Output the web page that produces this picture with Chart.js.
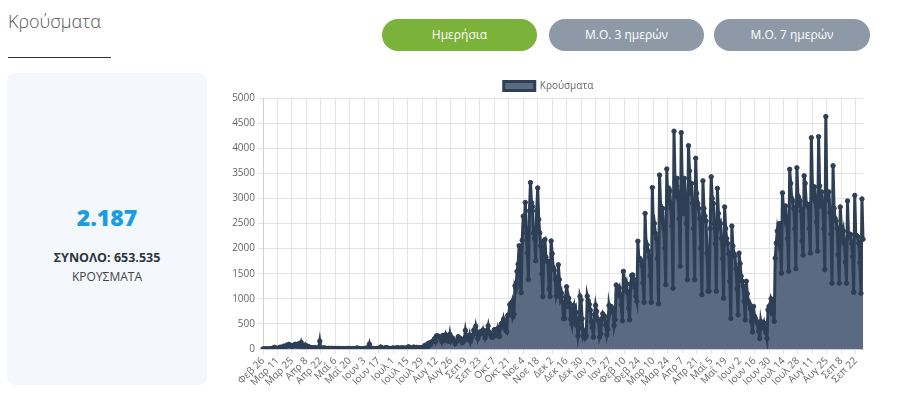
<!DOCTYPE html>
<html><head><meta charset="utf-8">
<script src="https://cdn.jsdelivr.net/npm/chart.js@4.4.0/dist/chart.umd.min.js"></script>
<style>
html,body{margin:0;padding:0;background:#fff;width:900px;height:396px;overflow:hidden;font-family:"Open Sans",sans-serif;}
.title{position:absolute;left:8px;top:9px;font-size:18px;font-weight:300;color:#555;}
.rule{position:absolute;left:8px;top:57px;width:103px;height:1px;background:#333;}
.btn{position:absolute;top:19px;height:32px;border-radius:16px;color:#fff;font-size:12px;line-height:32px;text-align:center;}
.card{position:absolute;left:7px;top:73px;width:200px;height:312px;background:#f4f7fc;border-radius:8px;text-align:center;}
.big{position:absolute;left:0;width:200px;top:128px;font-size:23px;font-weight:800;color:#1b9ee0;}
.tot{position:absolute;left:0;width:200px;top:176px;font-size:12.5px;font-weight:700;color:#2d3540;}
.lbl{position:absolute;left:0;width:200px;top:195px;font-size:12px;color:#444;}
#wrap{position:absolute;left:220px;top:68px;width:665px;height:328px;}
</style></head>
<body>
<div class="title">Κρούσματα</div>
<div class="rule"></div>
<div class="btn" style="left:382px;width:155px;background:#7bb23a;">Ημερήσια</div>
<div class="btn" style="left:549px;width:155px;background:#8d99a7;">Μ.Ο. 3 ημερών</div>
<div class="btn" style="left:714px;width:156px;background:#8d99a7;">Μ.Ο. 7 ημερών</div>
<div class="card">
  <div class="big">2.187</div>
  <div class="tot">ΣΥΝΟΛΟ: 653.535</div>
  <div class="lbl">ΚΡΟΥΣΜΑΤΑ</div>
</div>
<div id="wrap"><canvas id="c" width="665" height="328"></canvas></div>
<script>
const seriesName = 'Κρούσματα';
const monthNames = ['Ιαν','Φεβ','Μαρ','Απρ','Μαΐ','Ιουν','Ιουλ','Αυγ','Σεπ','Οκτ','Νοε','Δεκ'];
const tickLabels = ['Φεβ 26','Μαρ 11','Μαρ 25','Απρ 8','Απρ 22','Μαΐ 6','Μαΐ 20','Ιουν 3','Ιουν 17','Ιουλ 1','Ιουλ 15','Ιουλ 29','Αυγ 12','Αυγ 26','Σεπ 9','Σεπ 23','Οκτ 7','Οκτ 21','Νοε 4','Νοε 18','Δεκ 2','Δεκ 16','Δεκ 30','Ιαν 13','Ιαν 27','Φεβ 10','Φεβ 24','Μαρ 10','Μαρ 24','Απρ 7','Απρ 21','Μαΐ 5','Μαΐ 19','Ιουν 2','Ιουν 16','Ιουν 30','Ιουλ 14','Ιουλ 28','Αυγ 11','Αυγ 25','Σεπ 8','Σεπ 22'];
const yTicks = [0,500,1000,1500,2000,2500,3000,3500,4000,4500,5000];
// daily cases, one row per week (Wed..Tue), from 26 Feb 2020 to 29 Sep 2021
const cases = [
1,2,0,0,3,0,0,
2,2,14,1,34,11,16,
10,18,27,38,10,21,56,
31,46,77,65,94,71,70,
48,71,71,95,64,61,102,
99,53,129,62,62,20,77,
29,56,49,17,30,25,15,
25,25,22,12,19,19,156,
15,11,16,24,9,17,8,
9,15,10,3,12,10,7,
11,6,10,9,6,4,6,
10,5,4,6,6,10,8,
12,4,3,4,10,1,9,
21,13,5,2,1,3,9,
5,1,20,15,16,97,5,
4,15,9,2,5,10,5,
12,8,40,17,10,12,23,
27,21,19,9,11,9,15,
20,14,15,9,28,11,15,
20,12,25,19,16,8,23,
30,45,21,15,18,19,39,
28,25,33,22,21,22,30,
25,32,48,75,41,30,110,
121,82,124,151,153,203,150,
262,262,254,230,217,151,269,
269,193,284,226,163,151,293,
168,227,205,164,106,146,156,
244,224,202,198,124,142,209,
372,264,207,184,277,153,224,
269,374,338,453,342,208,274,
338,343,316,381,298,218,286,
372,460,318,324,244,235,244,
385,383,332,402,256,248,451,
508,461,597,512,377,345,667,
685,882,865,935,637,694,1259,
1211,1547,1690,2056,1288,1122,2166,
2646,2448,2920,2311,1914,1384,2752,
3316,2917,2835,2311,2198,1758,2752,
3209,2581,2311,2056,1498,1044,2152,
2179,1829,1746,1747,1193,1044,2152,
1900,1626,1567,1395,1059,1134,1677,
1382,1036,1112,928,602,608,1035,
1239,851,1013,906,594,495,807,
869,625,731,469,262,416,1047,
978,605,262,323,219,266,1053,
960,889,772,544,429,236,688,
871,751,589,557,236,303,601,
702,657,646,476,286,392,865,
738,848,816,785,465,582,1275,
1088,1165,1218,1048,880,560,1547,
1378,1224,1302,1135,817,580,1284,
1465,1476,1392,1220,1049,950,2147,
1764,1803,1759,1663,1311,930,2702,
2014,2071,1953,1823,1462,930,3215,
2400,2500,2300,2200,1800,900,3465,
2850,2650,2800,2400,2000,1280,3586,
2900,3200,3150,2800,2450,1210,4340,
3320,3050,3400,3000,2600,1650,4311,
3250,2700,3400,3000,2500,1380,4050,
3550,3100,3300,2900,2400,1380,3800,
3100,2900,2800,2600,2000,1080,3350,
2800,2650,2550,1900,1150,1150,2400,
3430,3000,2900,2500,2100,1150,3200,
2700,2450,2500,2200,1800,1010,2830,
2400,2200,2100,1900,1350,610,2450,
2050,1900,1850,1600,1200,680,1910,
1700,1450,1350,1250,950,580,1350,
1100,950,900,800,550,340,850,
650,600,550,500,360,210,550,
430,450,520,400,330,210,780,
850,780,1000,950,700,550,1810,
2110,2350,2200,2500,2100,1510,3110,
2800,2650,2850,2550,2200,1550,3580,
3300,3000,2950,2800,2400,1600,3610,
3050,2900,2950,2750,2150,1870,3450,
3300,2900,2850,2870,2400,1910,4210,
3250,3000,3230,2930,2530,1950,4230,
3250,2850,3130,2860,2400,1580,4630,
3000,2970,3130,2720,2290,1310,3650,
2800,2600,2550,2400,1880,1310,2830,
2430,2240,2350,2100,1730,1310,2950,
2230,2290,2280,2100,1840,1130,3060,
2270,2250,2230,2110,1720,1110,2990,
2187
];
// categories: one date per value, starting 26 Feb 2020
const categories = cases.map((_, i) => {
  const d = new Date(2020, 1, 26 + i);
  return monthNames[d.getMonth()] + ' ' + d.getDate();
});
const TICK_EVERY = 14;

const legendShift = {
  id: 'legendShift',
  afterLayout(chart) {
    const l = chart.legend;
    if (!l) return;
    l.top += 3; l.bottom += 3; l.left += 7; l.right += 7;
  }
};

Chart.defaults.font.family = '"Open Sans", sans-serif';
new Chart(document.getElementById('c'), {
  type: 'line',
  data: {
    labels: categories,
    datasets: [{
      label: seriesName,
      data: cases,
      borderColor: '#2d3e55',
      backgroundColor: '#5a6a80',
      borderWidth: 3,
      pointRadius: 2.2,
      pointBorderWidth: 1,
      pointBackgroundColor: '#2d3e55',
      pointBorderColor: '#2d3e55',
      fill: 'origin',
      tension: 0
    }]
  },
  plugins: [legendShift],
  options: {
    responsive: false,
    animation: false,
    devicePixelRatio: 1,
    layout: { padding: { left: 0, right: 22, top: 0, bottom: 0 } },
    plugins: {
      legend: {
        position: 'top',
        labels: { boxWidth: 31, boxHeight: 9, color: '#666', font: { size: 10 } }
      },
      tooltip: { enabled: false }
    },
    scales: {
      x: {
        afterFit: s => { s.height = 47; },
        ticks: {
          autoSkip: false, minRotation: 45, maxRotation: 45, color: '#666',
          font: { size: 10 }, padding: 1,
          callback: (v, i) => (i % TICK_EVERY === 0 ? tickLabels[i / TICK_EVERY] : '')
        },
        grid: {
          color: c => (c.index % TICK_EVERY === 0 ? '#e4e4e4' : 'rgba(0,0,0,0)'),
          tickColor: c => (c.index % TICK_EVERY === 0 ? '#e4e4e4' : 'rgba(0,0,0,0)'),
          tickLength: 5
        },
        border: { color: '#cfcfcf' }
      },
      y: {
        min: 0, max: 5000,
        afterFit: s => { s.width = 43; },
        afterBuildTicks: s => { s.ticks = yTicks.map(v => ({ value: v })); },
        ticks: { color: '#666', font: { size: 10 }, padding: 3, callback: v => String(v) },
        grid: { color: '#e4e4e4', tickLength: 5 },
        border: { color: '#cfcfcf' }
      }
    }
  }
});
</script>
</body></html>
